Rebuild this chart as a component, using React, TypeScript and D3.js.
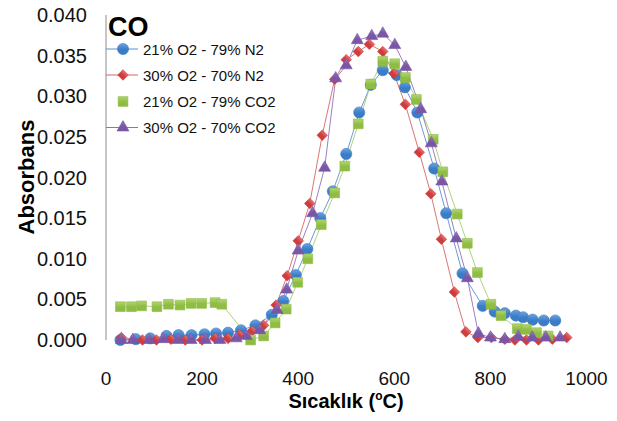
import React from "react";
import * as d3 from "d3";

const W = 617;
const H = 421;

const seriesNames = ["21% O2 - 79% N2", "30% O2 - 70% N2", "21% O2 - 79% CO2", "30% O2 - 70% CO2"];

const blueT = [30, 62, 92, 126, 151, 178, 205, 229, 254, 281, 311, 345, 369, 395, 419, 446, 472, 500, 527, 551, 576, 605, 622, 648, 683, 708, 742, 784, 809, 830, 853, 868, 888, 911, 935];
const blueV = [0.0, 0.0001, 0.0002, 0.0005, 0.0006, 0.0006, 0.0007, 0.0008, 0.0009, 0.0012, 0.0018, 0.0031, 0.0048, 0.008, 0.0112, 0.015, 0.0183, 0.0229, 0.028, 0.0314, 0.0332, 0.0326, 0.0311, 0.028, 0.0211, 0.0156, 0.0082, 0.0042, 0.0035, 0.0033, 0.003, 0.0028, 0.0025, 0.0024, 0.0024];

const redT = [32, 76, 105, 135, 165, 200, 227, 254, 278, 304, 328, 354, 377, 400, 424, 450, 476, 500, 525, 548, 576, 599, 623, 652, 676, 698, 725, 749, 774, 802, 830, 851, 875, 900, 929, 959];
const redV = [0.0003, 0.0, 0.0, 0.0001, 0.0, 0.0, 0.0002, 0.0002, 0.0006, 0.0011, 0.0018, 0.0043, 0.0079, 0.0122, 0.0168, 0.0252, 0.0321, 0.0345, 0.0355, 0.0364, 0.0355, 0.0328, 0.029, 0.0231, 0.018, 0.0124, 0.0059, 0.001, 0.0003, 0.0003, 0.0001, 0.0, 0.0, 0.0, 0.0001, 0.0003];

const greenT = [30, 53, 74, 106, 130, 154, 177, 199, 227, 241, 301, 328, 352, 375, 399, 420, 448, 476, 497, 525, 551, 576, 601, 623, 646, 681, 701, 731, 752, 773, 801, 822, 856, 875, 896, 920];
const greenV = [0.0041, 0.0041, 0.0042, 0.0041, 0.0044, 0.0043, 0.0045, 0.0045, 0.0046, 0.0044, 0.0, 0.0005, 0.0021, 0.0038, 0.0071, 0.01, 0.0142, 0.0181, 0.0214, 0.0266, 0.0315, 0.0343, 0.034, 0.0323, 0.0296, 0.0247, 0.0207, 0.0155, 0.0119, 0.0083, 0.0044, 0.003, 0.0014, 0.0013, 0.0009, 0.0005];

const purpleT = [32, 56, 90, 119, 150, 177, 207, 237, 271, 292, 320, 356, 376, 400, 430, 455, 478, 500, 523, 553, 576, 601, 624, 655, 677, 699, 729, 752, 775, 800, 830, 858, 887, 915, 945];
const purpleV = [0.0, 0.0, 0.0, 0.0001, 0.0, 0.0, 0.0, 0.0, 0.0002, 0.0005, 0.0012, 0.0037, 0.0062, 0.011, 0.0156, 0.0212, 0.0322, 0.0338, 0.0369, 0.0374, 0.0377, 0.0363, 0.0336, 0.0284, 0.0242, 0.0195, 0.0125, 0.0076, 0.0008, 0.0003, 0.0001, 0.0004, 0.0003, 0.0003, 0.0003];

const xTicks = [0, 200, 400, 600, 800, 1000];
const yTicks = [0, 0.005, 0.01, 0.015, 0.02, 0.025, 0.03, 0.035, 0.04];

const markerColors = ["#3a7cc6", "#d03b3b", "#8fbc43", "#7a56a6"];
const markerLight = ["#6aa3e0", "#e57070", "#b0d670", "#9c7cc4"];
const lineColors = ["#5b8fd2", "#d86565", "#a8cc72", "#8f73b8"];

const x = d3.scaleLinear().domain([0, 1000]).range([106, 586.5]);
const y = d3.scaleLinear().domain([0, 0.04]).range([340, 15]);

const FONT = "'Liberation Sans', Arial, sans-serif";

type Pt = [number, number];

function symbolPath(kind: number): string {
  if (kind === 0) return d3.symbol(d3.symbolCircle, 98)() as string;
  if (kind === 1) return d3.symbol(d3.symbolSquare, 56)() as string;
  if (kind === 2) return d3.symbol(d3.symbolSquare, 95)() as string;
  return d3.symbol(d3.symbolTriangle, 62)() as string;
}

function Marker({ kind, cx, cy }: { kind: number; cx: number; cy: number }) {
  const rot = kind === 1 ? " rotate(45)" : "";
  return (
    <path
      d={symbolPath(kind)}
      transform={`translate(${cx},${cy})${rot}`}
      fill={`url(#grad${kind})`}
      stroke={markerColors[kind]}
      strokeWidth={0.6}
    />
  );
}

export default function App() {
  const series: { t: number[]; v: number[] }[] = [
    { t: blueT, v: blueV },
    { t: redT, v: redV },
    { t: greenT, v: greenV },
    { t: purpleT, v: purpleV },
  ];
  const line = d3
    .line<Pt>()
    .x((d) => x(d[0]))
    .y((d) => y(d[1]));

  const legendY = [49, 75, 101.5, 127.5];

  return (
    <svg
      width={W}
      height={H}
      viewBox={`0 0 ${W} ${H}`}
      style={{ position: "absolute", left: 0, top: 0, display: "block", background: "#fff" }}
    >
      <defs>
        {markerColors.map((c, i) => (
          <linearGradient key={i} id={`grad${i}`} x1="0" y1="0" x2="0" y2="1">
            <stop offset="0%" stopColor={markerLight[i]} />
            <stop offset="55%" stopColor={c} />
            <stop offset="100%" stopColor={c} />
          </linearGradient>
        ))}
      </defs>
      <rect x={0} y={0} width={W} height={H} fill="#fff" />

      <line x1={106} x2={106} y1={y(0.04)} y2={y(0)} stroke="#8c8c8c" strokeWidth={1} />

      {yTicks.map((t) => (
        <text
          key={t}
          x={87}
          y={y(t)}
          textAnchor="end"
          dominantBaseline="central"
          fontFamily={FONT}
          fontSize={20}
          fill="#111"
        >
          {d3.format(".3f")(t)}
        </text>
      ))}

      {xTicks.map((t) => (
        <text
          key={t}
          x={x(t)}
          y={385}
          textAnchor="middle"
          fontFamily={FONT}
          fontSize={19}
          fill="#111"
        >
          {t}
        </text>
      ))}

      {series.map((s, i) => (
        <path
          key={`l${i}`}
          d={line(s.t.map((t, j) => [t, s.v[j]] as Pt)) as string}
          fill="none"
          stroke={lineColors[i]}
          strokeWidth={1}
          strokeOpacity={0.9}
        />
      ))}

      {series.map((s, i) => (
        <g key={`m${i}`}>
          {s.t.map((t, j) => (
            <Marker key={j} kind={i} cx={x(t)} cy={y(s.v[j])} />
          ))}
        </g>
      ))}

      <text x={108} y={36} fontFamily={FONT} fontWeight="bold" fontSize={27} fill="#000">
        CO
      </text>

      {seriesNames.map((name, i) => (
        <g key={`lg${i}`}>
          {i !== 2 && (
            <line x1={106} x2={138} y1={legendY[i]} y2={legendY[i]} stroke={lineColors[i]} strokeWidth={1} />
          )}
          <Marker kind={i} cx={123} cy={legendY[i]} />
          <text
            x={143}
            y={legendY[i]}
            dominantBaseline="central"
            fontFamily={FONT}
            fontSize={15}
            fill="#111"
          >
            {name}
          </text>
        </g>
      ))}

      <text
        transform={`translate(34,177) rotate(-90)`}
        textAnchor="middle"
        fontFamily={FONT}
        fontWeight="bold"
        fontSize={22}
        fill="#000"
      >
        Absorbans
      </text>
      <text x={346} y={408} textAnchor="middle" fontFamily={FONT} fontWeight="bold" fontSize={20} fill="#000">
        Sıcaklık (<tspan fontSize={12} dy={-8}>o</tspan>
        <tspan dy={8}>C)</tspan>
      </text>
    </svg>
  );
}
